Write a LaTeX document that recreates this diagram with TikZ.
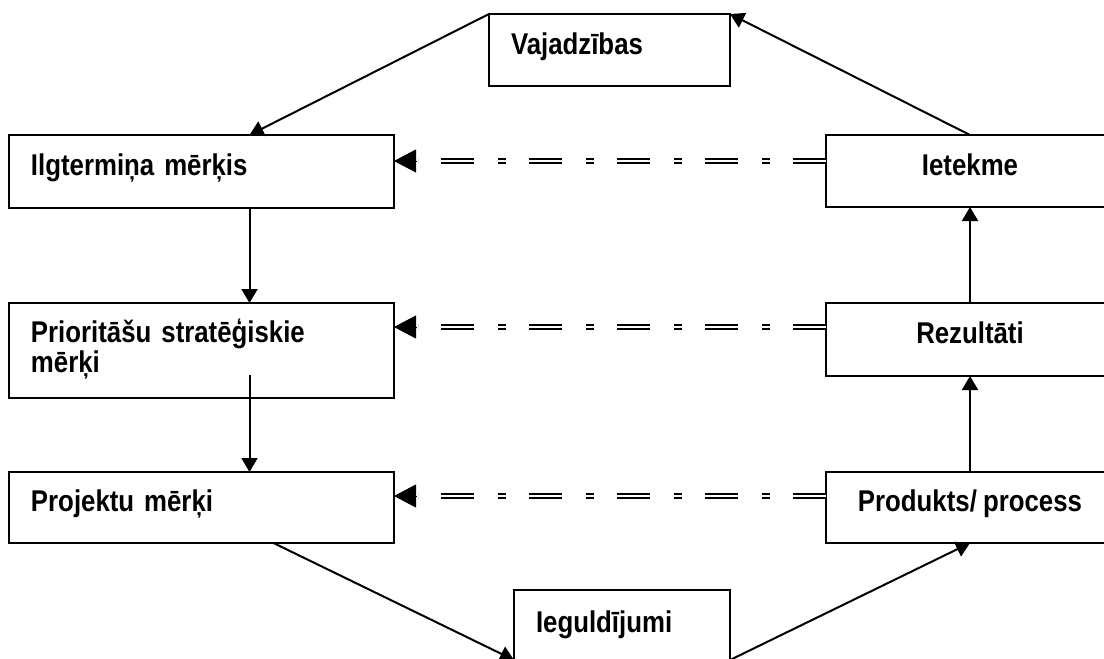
\documentclass[tikz,border=0pt]{standalone}
\usepackage{fontspec}
\setmainfont{Liberation Sans}[FakeStretch=0.86, WordSpace=0.86]
\usetikzlibrary{arrows.meta}

\begin{document}
\begin{tikzpicture}[x=0.5pt, y=-0.5pt, every node/.style={font=\fontsize{15pt}{15pt}\selectfont\bfseries},
  box/.style={draw, line width=1pt, outer sep=0pt, inner xsep=11pt, inner ysep=0pt, text height=11pt, text depth=7pt, anchor=north west},
  lbox/.style={box, minimum width=192.5pt, text width=170.5pt, align=left},
  rbox/.style={box, minimum width=144pt, align=center},
  flow/.style={line width=1pt, -{Triangle[length=7pt,width=8pt]}},
  link/.style={line width=1pt, double, double distance=1pt, dash pattern=on 16.5pt off 11.5pt on 4pt off 12pt},
  tip/.style={line width=0.4pt, -{Triangle[length=11pt,width=11.5pt]}}]
\clip (0,0) rectangle (1104,659);
% left column
\node[lbox, minimum height=36.5pt] (ilg) at (9,135) {Ilgtermiņa mērķis};
\node[lbox, minimum height=47.5pt, text depth=19.5pt] (pri) at (9,303) {Prioritāšu stratēģiskie\\mērķi};
\node[lbox, minimum height=35.5pt] (pro) at (9,472) {Projektu mērķi};
% top and bottom
\node[box, minimum width=120.5pt, minimum height=36pt, text width=98.5pt, align=left] (vaj) at (489,14) {Vajadzības};
\node[box, minimum width=108pt, minimum height=35pt, text width=86pt, text depth=4pt, align=left] (ieg) at (514,590) {Ieguldījumi};
% right column
\node[rbox, minimum height=36pt] (iet) at (826,135) {Ietekme};
\node[rbox, minimum height=36.5pt] (rez) at (826,303) {Rezultāti};
\node[rbox, minimum height=35.5pt] (prd) at (826,472) {Produkts/ process};
% main cycle
\draw[flow] (vaj.north west) -- ([xshift=24pt]ilg.north);
\draw[flow] ([xshift=24pt]ilg.south) -- ([xshift=24pt]pri.north);
\draw[flow] ([xshift=24pt,yshift=11.5pt]pri.south) -- ([xshift=24pt]pro.north);
\draw[flow] ([xshift=36pt]pro.south) -- (ieg.south west);
\draw[flow] (ieg.south east) -- (prd.south);
\draw[flow] (prd.north) -- (rez.south);
\draw[flow] (rez.north) -- (iet.south);
\draw[flow] (iet.north) -- (vaj.north east);
% double dashed links back to the left
\draw[link] ([yshift=-13pt]iet.north west) -- ([xshift=12pt,yshift=-13pt]ilg.north east);
\draw[tip] ([xshift=11pt,yshift=-13pt]ilg.north east) -- ([yshift=-13pt]ilg.north east);
\draw[link] ([yshift=-12pt]rez.north west) -- ([xshift=12pt,yshift=-12pt]pri.north east);
\draw[tip] ([xshift=11pt,yshift=-12pt]pri.north east) -- ([yshift=-12pt]pri.north east);
\draw[link] ([yshift=-12pt]prd.north west) -- ([xshift=12pt,yshift=-12pt]pro.north east);
\draw[tip] ([xshift=11pt,yshift=-12pt]pro.north east) -- ([yshift=-12pt]pro.north east);
\end{tikzpicture}
\end{document}
